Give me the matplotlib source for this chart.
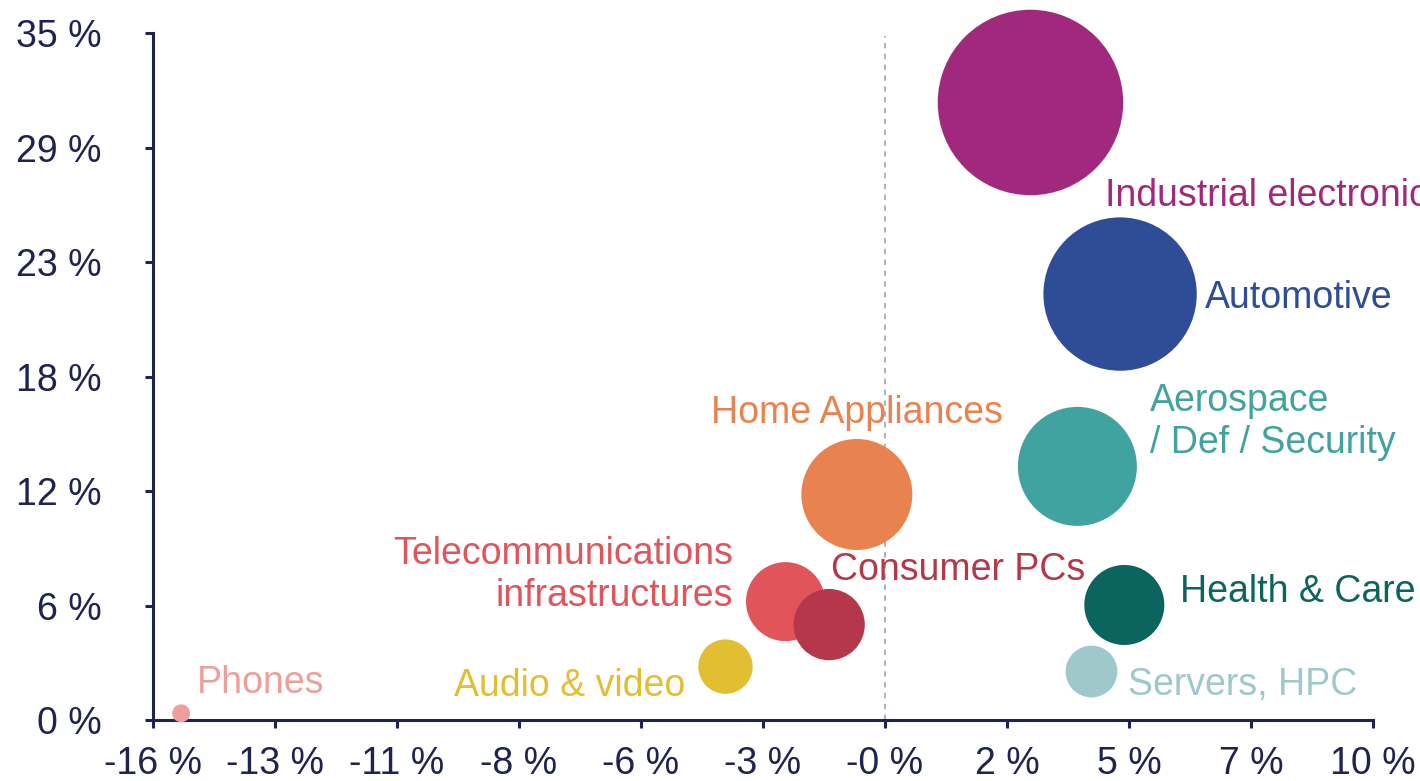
import numpy as np
import matplotlib
matplotlib.use("Agg")
import matplotlib.pyplot as plt
from matplotlib.ticker import FixedLocator, FuncFormatter

plt.rcParams['font.family'] = ['Liberation Sans', 'DejaVu Sans']

# market segments: growth (x, %), share (y, %), relative market size (bubble area)
segments = ["Phones", "Audio & video", "Telecommunications\ninfrastructures", "Consumer PCs",
            "Home Appliances", "Industrial electronics", "Automotive",
            "Aerospace\n/ Def / Security", "Health & Care", "Servers, HPC"]
growth = [-15.4, -3.8, -2.52, -1.59, -1.0, 2.7, 4.61, 3.7, 4.7, 4.0]
share = [0.34, 2.72, 6.03, 4.86, 11.49, 31.46, 21.7, 12.92, 5.86, 2.47]
market_size = [0.8, 7.4, 15.6, 12.7, 30.8, 86.0, 58.8, 35.4, 16.0, 6.7]

colors = ["#EE9F9A", "#E2BE33", "#E0545A", "#B5374A", "#E8834F",
          "#A0297D", "#2E4D96", "#41A39F", "#0B645E", "#9FC8CB"]

# label placement: offset from bubble centre in points, horizontal alignment
label_layout = [
    ((11.5, 22), "left"),
    ((-29, -14), "right"),
    ((-38, 19), "right"),
    ((1, 39), "left"),
    ((0, 59), "center"),
    ((54, -67), "left"),
    ((61, -3), "left"),
    ((52, 32), "left"),
    ((40, 9), "left"),
    ((26, -10), "left"),
]

xticks = np.linspace(-16, 10, 11)
yticks = np.linspace(0, 35, 7)
navy = "#1F2350"

fig = plt.figure(figsize=(14.2, 7.81), dpi=100)
ax = fig.add_axes([153 / 1420, 1 - 720 / 781, 1220 / 1420, 687 / 781])

# bubble area proportional to market size
s = np.array(market_size) * 100 * (2 * 0.72) ** 2
ax.scatter(growth, share, s=s, c=colors, edgecolors="none", clip_on=False, zorder=3)

# reference line at the "-0 %" tick
ax.axvline(xticks[6], ymin=0, ymax=0.995, color="#A3ADBD", lw=1.3,
           ls=(0, (3, 3)), zorder=1)

for name, x, y, col, (off, ha) in zip(segments, growth, share, colors, label_layout):
    ax.annotate(name, (x, y), xytext=off, textcoords="offset points",
                ha=ha, va="center", multialignment=ha, color=col,
                fontsize=27, linespacing=1.22, annotation_clip=False, zorder=4)

ax.set_xlim(-16, 10)
ax.set_ylim(0, 35)
ax.xaxis.set_major_locator(FixedLocator(xticks))
ax.yaxis.set_major_locator(FixedLocator(yticks))
ax.xaxis.set_major_formatter(FuncFormatter(lambda v, p: f"{v:.0f} %"))
ax.yaxis.set_major_formatter(FuncFormatter(lambda v, p: f"{v:.0f} %"))

for side in ["top", "right"]:
    ax.spines[side].set_visible(False)
for side in ["left", "bottom"]:
    ax.spines[side].set_color(navy)
    ax.spines[side].set_linewidth(2.2)

ax.tick_params(axis="both", colors=navy, labelsize=27, length=6, width=2.2)
ax.tick_params(axis="y", pad=31)
ax.tick_params(axis="x", pad=13)

fig.savefig("out.png", dpi=100)
